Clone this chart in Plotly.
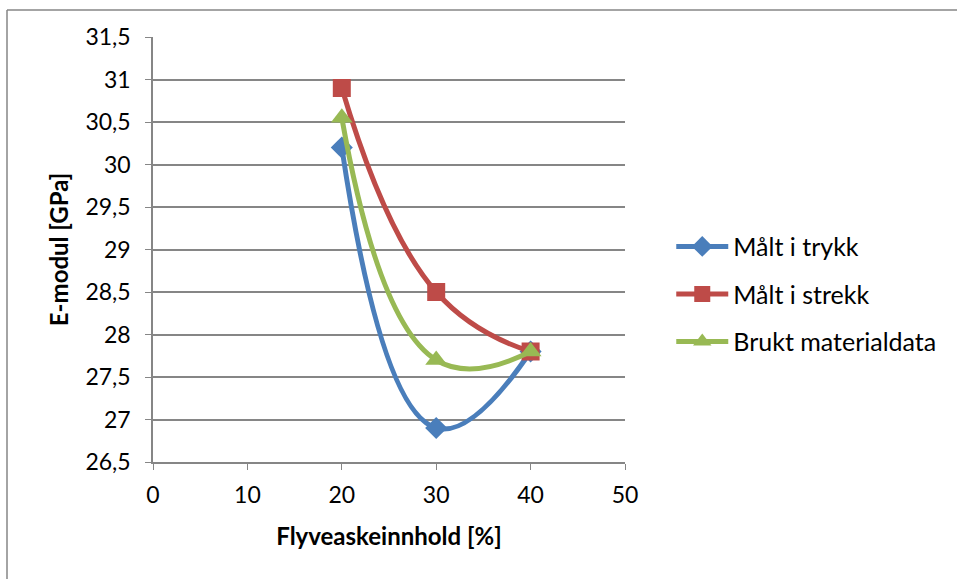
import plotly.graph_objects as go

x_vals = [20, 30, 40]
trykk = [30.2, 26.9, 27.8]
strekk = [30.9, 28.5, 27.8]
brukt = [30.55, 27.7, 27.8]
names = ["Målt i trykk", "Målt i strekk", "Brukt materialdata"]
colors = ["#4a7ebb", "#be4b48", "#98b954"]
symbols = ["diamond", "square", "triangle-up"]
sizes = [17, 18, 19]
series = [trykk, strekk, brukt]

W, H = 957, 579
L, R, T, B = 153, 625, 37, 462

fig = go.Figure()
for i, (name, ys, c, s, sz) in enumerate(zip(names, series, colors, symbols, sizes)):
    fig.add_trace(go.Scatter(
        x=x_vals, y=ys, name=name, mode="lines+markers", legendgroup=f"g{i}",
        line=dict(color=c, width=5, shape="spline", smoothing=1.3),
        marker=dict(color=c, symbol=s, size=sz, line=dict(width=0)),
    ))

font = "Lato, Open Sans, sans-serif"
yt = [26.5, 27, 27.5, 28, 28.5, 29, 29.5, 30, 30.5, 31, 31.5]
yl = [("%g" % v).replace(".", ",") for v in yt]

fig.update_layout(
    width=W, height=H,
    margin=dict(l=L, r=W - R, t=T, b=H - B, autoexpand=False),
    plot_bgcolor="white", paper_bgcolor="white",
    font=dict(family=font, size=20, color="black"),
    showlegend=True,
    legend=dict(x=1.098, y=0.395, xanchor="left", yanchor="middle",
                font=dict(size=25), tracegroupgap=12, itemwidth=52,
                bgcolor="rgba(0,0,0,0)"),
    xaxis=dict(range=[0, 50], dtick=10, showgrid=False, zeroline=False,
               showline=True, linecolor="#868686", linewidth=1.5,
               ticks="outside", ticklen=6, tickcolor="#868686",
               tickfont=dict(size=23), ticklabelstandoff=6,
               title=dict(text="<b>Flyveaskeinnhold [%]</b>", font=dict(size=24), standoff=21)),
    yaxis=dict(range=[26.5, 31.5], showgrid=True, gridcolor="#868686",
               gridwidth=1.5, zeroline=False, showline=True, linecolor="#868686",
               linewidth=1.5, ticks="outside", ticklen=6, tickcolor="#868686",
               tickfont=dict(size=23), ticklabelstandoff=10,
               tickvals=yt, ticktext=yl,
               title=dict(text="<b>E-modul [GPa]</b>", font=dict(size=24), standoff=10)),
)

# outer chart border
px = lambda p: (p - L) / (R - L)
py = lambda p: (B - p) / (B - T)
fig.add_shape(type="line", xref="paper", yref="paper",
              x0=px(7), x1=px(960), y0=py(10), y1=py(10),
              line=dict(color="#868686", width=1.5))
fig.add_shape(type="line", xref="paper", yref="paper",
              x0=px(7), x1=px(7), y0=py(10), y1=py(585),
              line=dict(color="#868686", width=1.5))

fig.write_html("out.html")
